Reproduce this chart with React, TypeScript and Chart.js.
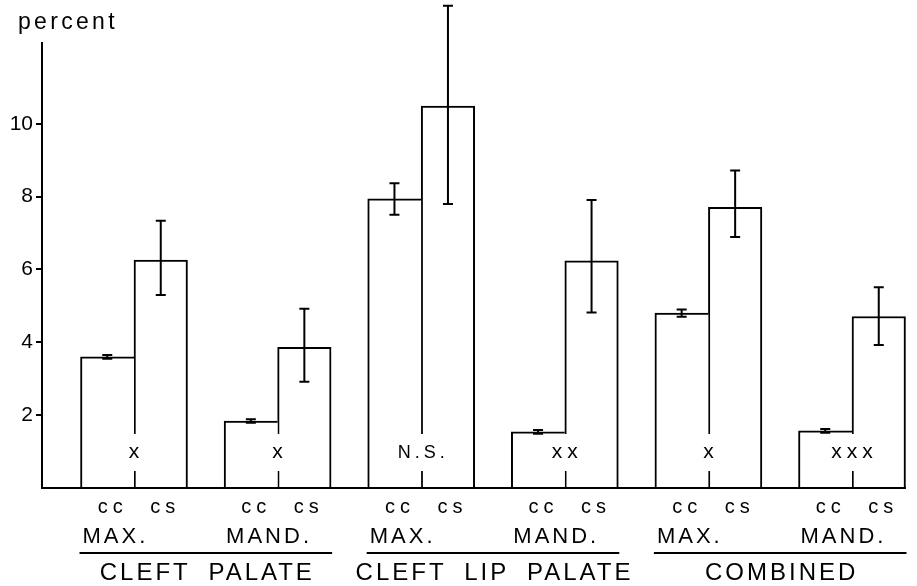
import React, { useEffect, useRef } from "react";
import { Chart, registerables } from "chart.js";

Chart.register(...registerables);

// ---- data ----
const groups = [0, 1, 2, 3, 4, 5];
const jawLabels = ["MAX.", "MAND.", "MAX.", "MAND.", "MAX.", "MAND."];
const regionLabels = ["CLEFT PALATE", "CLEFT LIP PALATE", "COMBINED"];
const seriesNames = ["cc", "cs"];
const significance = ["x", "x", "N.S.", "xx", "x", "xxx"];

const ccValues = [3.6, 1.84, 7.94, 1.54, 4.8, 1.57];
const ccLow = [3.55, 1.79, 7.5, 1.49, 4.7, 1.52];
const ccHigh = [3.65, 1.89, 8.37, 1.59, 4.9, 1.62];

const csValues = [6.26, 3.86, 10.49, 6.24, 7.71, 4.71];
const csLow = [5.3, 2.92, 7.8, 4.82, 6.89, 3.93];
const csHigh = [7.34, 4.92, 13.24, 7.91, 8.72, 5.51];

const yTicks = [2, 4, 6, 8, 10];
const yAxisTop = 12.25;
const yTitle = "percent";

const FONT = "'Liberation Sans', Arial, sans-serif";

function spacedText(
  ctx: CanvasRenderingContext2D,
  text: string,
  x: number,
  y: number,
  size: number,
  spacing: number,
  align: "left" | "center" | "right",
  word = 0
): number {
  ctx.font = `${size}px ${FONT}`;
  (ctx as any).letterSpacing = `${spacing}px`;
  (ctx as any).wordSpacing = `${word}px`;
  ctx.textAlign = "left";
  ctx.textBaseline = "alphabetic";
  const w = ctx.measureText(text).width - spacing;
  const x0 = align === "center" ? x - w / 2 : align === "right" ? x - w : x;
  ctx.fillText(text, x0, y);
  return w;
}

const drawPlugin = {
  id: "figureDecor",
  afterDatasetsDraw(chart: any) {
    const ctx: CanvasRenderingContext2D = chart.ctx;
    const ys = chart.scales.y;
    const area = chart.chartArea;
    const ccMeta = chart.getDatasetMeta(0);
    const csMeta = chart.getDatasetMeta(1);
    ctx.save();
    ctx.strokeStyle = "#000";
    ctx.fillStyle = "#000";
    ctx.lineWidth = 2;
    ctx.lineCap = "butt";

    // error bars
    const errs = [
      [ccLow, ccHigh, ccMeta],
      [csLow, csHigh, csMeta],
    ] as any[];
    errs.forEach(([lo, hi, meta]) => {
      meta.data.forEach((el: any, i: number) => {
        const x = el.x;
        const y1 = ys.getPixelForValue(lo[i]);
        const y2 = ys.getPixelForValue(hi[i]);
        ctx.beginPath();
        ctx.moveTo(x, y1);
        ctx.lineTo(x, y2);
        ctx.moveTo(x - 5, y1);
        ctx.lineTo(x + 5, y1);
        ctx.moveTo(x - 5, y2);
        ctx.lineTo(x + 5, y2);
        ctx.stroke();
      });
    });

    // axis lines
    const y0 = ys.getPixelForValue(0);
    ctx.beginPath();
    ctx.moveTo(area.left, ys.getPixelForValue(yAxisTop));
    ctx.lineTo(area.left, y0);
    ctx.lineTo(area.right, y0);
    ctx.stroke();

    // significance labels on the cc/cs boundary
    ccMeta.data.forEach((el: any, i: number) => {
      const bx = el.x + el.width / 2;
      const txt = significance[i];
      const isCaps = txt === txt.toUpperCase() && txt !== txt.toLowerCase();
      const size = isCaps ? 18 : 21;
      const sp = isCaps ? 4 : 5;
      ctx.font = `${size}px ${FONT}`;
      (ctx as any).letterSpacing = `${sp}px`;
      const w = ctx.measureText(txt).width - sp;
      ctx.fillStyle = "#fff";
      ctx.fillRect(bx - w / 2 - 4, y0 - 54, w + 8, 37);
      ctx.fillStyle = "#000";
      spacedText(ctx, txt, bx, y0 - 30, size, sp, "center");
    });

    // category labels below the axis
    groups.forEach((g, i) => {
      const cc = ccMeta.data[i];
      const cs = csMeta.data[i];
      spacedText(ctx, seriesNames[0], cc.x + 3, y0 + 25, 20, 5, "center");
      spacedText(ctx, seriesNames[1], cs.x + 2, y0 + 25, 20, 5, "center");
      spacedText(ctx, jawLabels[i], cc.x - cc.width / 2 + 2, y0 + 55, 22, 3, "left");
    });

    regionLabels.forEach((lab, r) => {
      const a = ccMeta.data[2 * r];
      const b = csMeta.data[2 * r + 1];
      const x1 = a.x - a.width / 2 - 1;
      const x2 = b.x + b.width / 2 + 1;
      const uy = y0 + 65;
      ctx.beginPath();
      ctx.moveTo(x1, uy);
      ctx.lineTo(x2, uy);
      ctx.stroke();
      spacedText(ctx, lab, (x1 + x2) / 2, y0 + 92, 24, 3, "center", 8);
    });

    // axis title
    spacedText(ctx, yTitle, 18, 29, 23, 3.3, "left");

    ctx.restore();
  },
};

export default function App() {
  const ref = useRef<HTMLCanvasElement>(null);

  useEffect(() => {
    const canvas = ref.current;
    if (!canvas) return;
    const chart = new Chart(canvas, {
      type: "bar",
      data: {
        datasets: [
          {
            label: seriesNames[0],
            data: groups.map((g, i) => ({ x: g, y: ccValues[i] })),
            backgroundColor: "#fff",
            borderColor: "#000",
            borderWidth: { top: 2, left: 2, right: 0, bottom: 0 },
            borderSkipped: "start",
            barThickness: 53.5,
          },
          {
            label: seriesNames[1],
            data: groups.map((g, i) => ({ x: g, y: csValues[i] })),
            backgroundColor: "#fff",
            borderColor: "#000",
            borderWidth: { top: 2, left: 2, right: 2, bottom: 0 },
            borderSkipped: "start",
            barThickness: 53.5,
          },
        ],
      } as any,
      options: {
        responsive: false,
        animation: false,
        layout: { padding: { left: 0, right: 11, top: 0, bottom: 0 } },
        plugins: { legend: { display: false }, tooltip: { enabled: false } },
        scales: {
          x: {
            type: "linear",
            min: -0.6407,
            max: 5.376,
            offset: false,
            grid: { display: false },
            border: { display: false },
            ticks: { display: false },
            afterBuildTicks: (s: any) => {
              s.ticks = groups.map((v) => ({ value: v }));
            },
            afterFit: (s: any) => {
              s.height = 98;
              s.paddingLeft = 0;
              s.paddingRight = 0;
            },
          },
          y: {
            min: 0,
            max: 13.4,
            grid: {
              drawOnChartArea: false,
              drawTicks: true,
              tickLength: 6,
              color: "#000",
              lineWidth: 2,
            },
            border: { display: false },
            ticks: {
              color: "#000",
              font: { family: FONT, size: 21 },
              padding: 3,
            },
            afterBuildTicks: (s: any) => {
              s.ticks = yTicks.map((v) => ({ value: v }));
            },
            afterFit: (s: any) => {
              s.width = 42;
              s.paddingTop = 0;
              s.paddingBottom = 0;
            },
          },
        },
      } as any,
      plugins: [drawPlugin],
    });
    return () => chart.destroy();
  }, []);

  return (
    <div
      style={{
        position: "absolute",
        left: 0,
        top: 0,
        width: 917,
        height: 586,
        background: "#fff",
      }}
    >
      <canvas ref={ref} width={917} height={586} />
    </div>
  );
}
